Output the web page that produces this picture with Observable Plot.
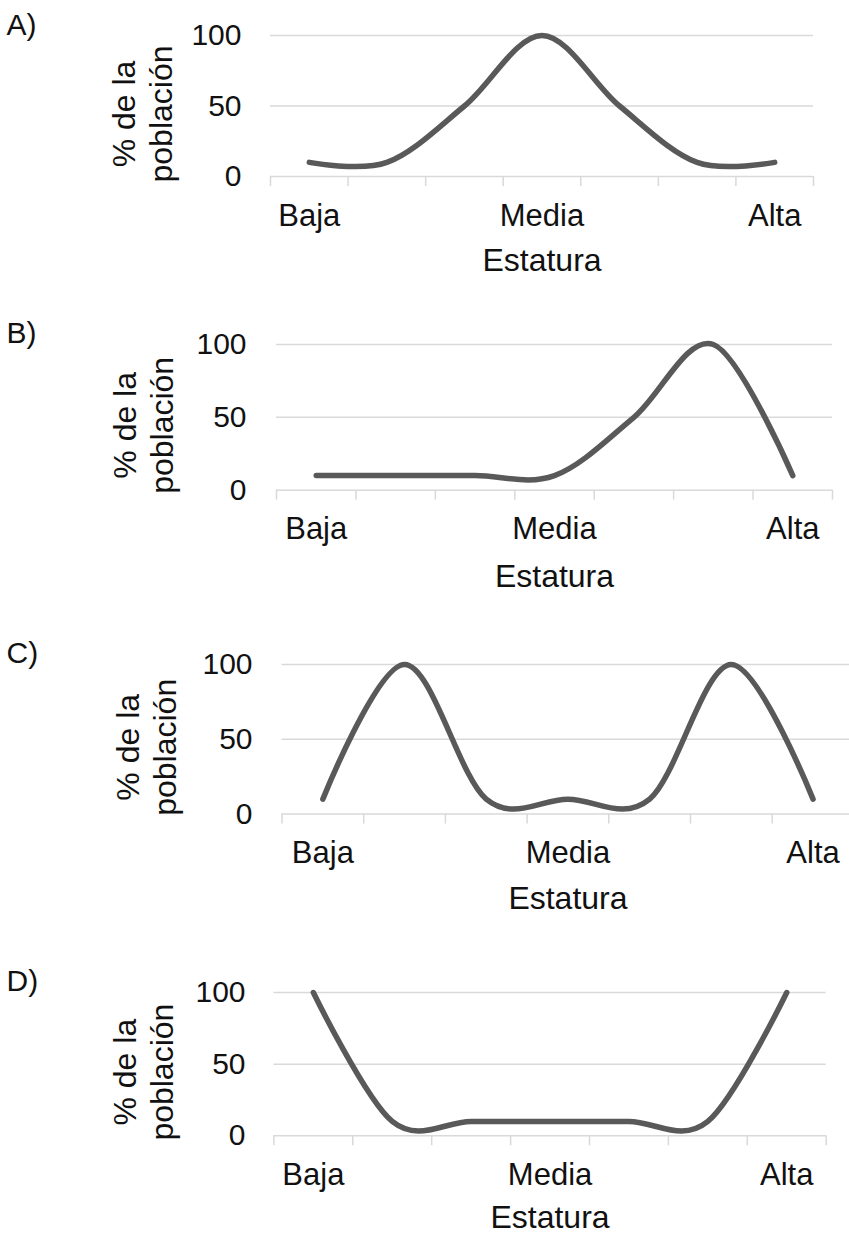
<!DOCTYPE html>
<html><head><meta charset="utf-8">
<script src="https://cdn.jsdelivr.net/npm/d3@7"></script>
<script src="https://cdn.jsdelivr.net/npm/@observablehq/plot@0.6"></script>
<style>
html,body{margin:0;padding:0;background:#fff;overflow:hidden;}
#chart{position:relative;width:849px;height:1235px;overflow:hidden;background:#fff;}
#chart svg{position:absolute;left:0;max-width:none !important;}
</style></head><body><div id="chart"></div>
<script>
// ---- data ----
const categories = ["Baja", "", "", "Media", "", "", "Alta"];
const yTicks = [0, 50, 100];
const seriesA = [10, 10, 50, 100, 50, 10, 10];
const seriesB = [10, 10, 10, 10, 50, 100, 10];
const seriesC = [10, 100, 10, 10, 10, 100, 10];
const seriesD = [100, 10, 10, 10, 10, 10, 100];
const panelLabels = ["A)", "B)", "C)", "D)"];
const xTitle = "Estatura";
const yTitle = "% de la\npoblación";

// ---- layout ----
const series = [seriesA, seriesB, seriesC, seriesD];
const layout = [
  {x0: 270,   x1: 813,   y100: 34.5,  y0: 175.5,  tickRight: 241, titleX: 141.6, xTitleDy: 72},
  {x0: 276,   x1: 832,   y100: 344.3, y0: 490,    tickRight: 246, titleX: 142,   xTitleDy: 74},
  {x0: 281.5, x1: 853.4, y100: 663.7, y0: 813.3,  tickRight: 252, titleX: 145,   xTitleDy: 72},
  {x0: 273.4, x1: 825.7, y100: 991.7, y0: 1135,   tickRight: 245, titleX: 142,   xTitleDy: 69}
];
const W = 870, MT = 40, MB = 115;
const FONT = "'Liberation Sans', Arial, Helvetica, sans-serif";
const boundaries = d3.range(categories.length + 1).map(i => i + 0.5);
const labelIdx = categories.map((c, i) => c ? i + 1 : null).filter(v => v !== null);

series.forEach((values, k) => {
  const L = layout[k];
  const data = values.map((v, i) => ({i: i + 1, v}));
  const plot = Plot.plot({
    width: W, height: MT + (L.y0 - L.y100) + MB,
    marginTop: MT, marginBottom: MB, marginLeft: L.x0, marginRight: W - L.x1,
    style: {fontFamily: FONT, background: "transparent", overflow: "visible", color: "#111", maxWidth: "none"},
    x: {domain: [0.5, categories.length + 0.5]},
    y: {domain: [0, 100]},
    marks: [
      Plot.ruleY(yTicks, {stroke: "#d9d9d9", strokeWidth: 1.5}),
      Plot.axisX({ticks: boundaries, tickSize: 10, tickFormat: () => "", stroke: "#d9d9d9", strokeWidth: 1.5, label: null}),
      Plot.axisX({ticks: labelIdx, tickSize: 0, tickPadding: 27, tickFormat: i => categories[i - 1], fontSize: 31, fill: "#111", label: null}),
      Plot.axisY({ticks: yTicks, tickSize: 0, tickPadding: L.x0 - L.tickRight, fontSize: 30, fill: "#111", label: null}),
      Plot.text([xTitle], {text: d => d, frameAnchor: "bottom", dy: L.xTitleDy, lineAnchor: "top", textAnchor: "middle", fontSize: 32, fill: "#111"}),
      Plot.text([yTitle], {text: d => d, frameAnchor: "left", rotate: -90, dx: L.titleX - L.x0, dy: 8, textAnchor: "middle", lineAnchor: "middle", lineHeight: 1.15, fontSize: 32, fill: "#111"}),
      Plot.text([panelLabels[k]], {text: d => d, frameAnchor: "top-left", dx: 6 - L.x0, dy: -1, textAnchor: "start", lineAnchor: "bottom", fontSize: 30, fill: "#111"}),
      Plot.line(data, {x: "i", y: "v", curve: "cardinal", tension: 0, stroke: "#595959", strokeWidth: 5.5, strokeLinecap: "round", strokeLinejoin: "round"})
    ]
  });
  plot.style.top = (L.y100 - MT) + "px";
  document.getElementById("chart").appendChild(plot);
});
</script>
</body></html>
